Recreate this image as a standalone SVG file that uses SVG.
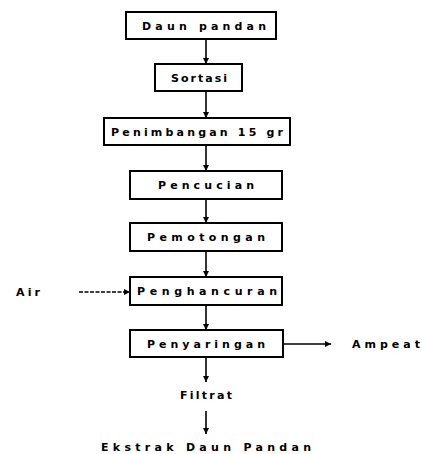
<svg xmlns="http://www.w3.org/2000/svg" width="422" height="454" viewBox="0 0 422 454">
<defs>
<marker id="ah" viewBox="0 0 10 10" refX="10" refY="5" markerWidth="6" markerHeight="6" orient="auto" markerUnits="userSpaceOnUse">
<path d="M0,0 L10,5 L0,10 z" fill="#000"/>
</marker>
<style>
.box{fill:#fff;stroke:#000;stroke-width:2}
.t{font-family:"DejaVu Sans","Liberation Sans",Arial,sans-serif;font-size:11px;font-weight:bold;fill:#000;text-anchor:middle}
.c{stroke:#000;stroke-width:1.6;fill:none;marker-end:url(#ah)}
</style>
</defs>
<rect width="422" height="454" fill="#fff"/>
<g id="connectors">
<line class="c" x1="206" y1="39" x2="206" y2="64"/>
<line class="c" x1="206" y1="91" x2="206" y2="118"/>
<line class="c" x1="206" y1="145" x2="206" y2="171"/>
<line class="c" x1="206" y1="199" x2="206" y2="223"/>
<line class="c" x1="206" y1="251" x2="206" y2="277"/>
<line class="c" x1="206" y1="305" x2="206" y2="330" stroke-width="2"/>
<line class="c" x1="206" y1="357" x2="206" y2="382" stroke-width="2"/>
<line class="c" x1="206" y1="411" x2="206" y2="434"/>
<line class="c" x1="79" y1="292" x2="130" y2="292" stroke-dasharray="4,1.5" stroke-width="2"/>
<line class="c" x1="283" y1="344" x2="331" y2="344"/>
</g>
<g id="n1"><rect class="box" x="126" y="12" width="150" height="27"/><text class="t" x="204" y="29.5" textLength="124" lengthAdjust="spacing">Daun pandan</text></g>
<g id="n2"><rect class="box" x="155" y="64" width="87" height="27"/><text class="t" x="199" y="81.5" textLength="56" lengthAdjust="spacing">Sortasi</text></g>
<g id="n3"><rect class="box" x="104" y="118" width="186" height="27"/><text class="t" x="197" y="135.5" textLength="172" lengthAdjust="spacing">Penimbangan 15 gr</text></g>
<g id="n4"><rect class="box" x="130" y="171" width="152" height="28"/><text class="t" x="206" y="189" textLength="96" lengthAdjust="spacing">Pencucian</text></g>
<g id="n5"><rect class="box" x="130" y="223" width="152" height="28"/><text class="t" x="206" y="241" textLength="118" lengthAdjust="spacing">Pemotongan</text></g>
<g id="n6"><rect class="box" x="130" y="277" width="152" height="28"/><text class="t" x="207" y="295" textLength="140" lengthAdjust="spacing">Penghancuran</text></g>
<g id="n7"><rect class="box" x="130" y="330" width="153" height="27"/><text class="t" x="206" y="348" textLength="118" lengthAdjust="spacing">Penyaringan</text></g>
<g id="air"><text class="t" x="28" y="296" textLength="24" lengthAdjust="spacing">Air</text></g>
<g id="ampeat"><text class="t" x="386" y="348" textLength="68" lengthAdjust="spacing">Ampeat</text></g>
<g id="filtrat"><text class="t" x="206" y="399" textLength="52" lengthAdjust="spacing">Filtrat</text></g>
<g id="ekstrak"><text class="t" x="206" y="451" textLength="210" lengthAdjust="spacing">Ekstrak Daun Pandan</text></g>
</svg>
